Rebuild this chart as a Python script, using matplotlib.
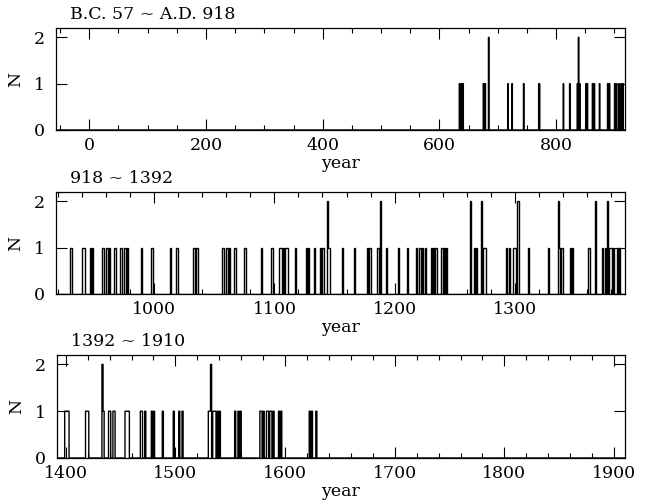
import numpy as np
import matplotlib
matplotlib.use("Agg")
import matplotlib.pyplot as plt
from matplotlib.ticker import MultipleLocator

plt.rcParams['font.family'] = ['DejaVu Serif']

# Event years (one entry per event; repeated year -> N=2)
events_p1 = [634, 637, 640, 675, 678, 684, 684, 717, 724, 744, 770, 771, 812, 823,
             836, 838, 838, 840, 851, 853, 862, 865, 874, 888, 891, 900, 903, 907,
             911, 914]
events_p2 = [930, 940, 941, 946, 948, 956, 957, 960, 962, 966, 967, 971, 972, 975,
             977, 989, 997, 998, 1013, 1018, 1019, 1032, 1033, 1035, 1056, 1057,
             1060, 1062, 1066, 1067, 1075, 1089, 1097, 1098, 1104, 1105, 1107, 1109,
             1110, 1117, 1126, 1128, 1133, 1138, 1140, 1144, 1144, 1145, 1156, 1166,
             1177, 1179, 1185, 1186, 1188, 1188, 1193, 1203, 1210, 1218, 1220, 1221,
             1223, 1225, 1230, 1232, 1234, 1239, 1241, 1243, 1263, 1263, 1266, 1268,
             1272, 1272, 1274, 1275, 1293, 1295, 1299, 1300, 1302, 1302, 1303, 1303,
             1311, 1328, 1336, 1336, 1337, 1339, 1346, 1348, 1361, 1362, 1367, 1367,
             1373, 1375, 1377, 1377, 1379, 1380, 1382, 1385, 1387]
events_p3 = [1399, 1400, 1401, 1402, 1418, 1419, 1420, 1433, 1433, 1434, 1439, 1440,
             1443, 1444, 1454, 1455, 1456, 1457, 1468, 1469, 1472, 1478, 1480, 1488,
             1498, 1503, 1506, 1530, 1531, 1532, 1532, 1534, 1535, 1536, 1538, 1540,
             1554, 1557, 1559, 1577, 1578, 1580, 1583, 1584, 1586, 1587, 1589, 1594,
             1596, 1622, 1624, 1628]

titles = ["B.C. 57 ~ A.D. 918", "918 ~ 1392", "1392 ~ 1910"]
xranges = [(-57, 918), (918, 1392), (1392, 1910)]
major_steps = [200, 100, 100]
minor_steps = [50, 20, 20]
yticks = [0, 1, 2]

W, H = 651, 504
fig = plt.figure(figsize=(W / 100, H / 100), dpi=100)

# axes boxes in pixel coords: (left, top, right, bottom)
boxes = [(56, 28, 625, 130), (56, 192, 625, 294), (57, 355, 625, 458)]
all_events = [events_p1, events_p2, events_p3]

for box, ev, (x0, x1), title, mj, mn in zip(boxes, all_events, xranges, titles,
                                            major_steps, minor_steps):
    l, t, r, b = box
    ax = fig.add_axes([l / W, 1 - b / H, (r - l) / W, (b - t) / H])
    bins = np.arange(x0, x1 + 1, 1)
    ax.hist(ev, bins=bins, histtype='step', color='black', linewidth=1.0)
    ax.set_xlim(x0, x1)
    ax.set_ylim(0, 2.2)
    ax.set_yticks(yticks)
    ax.xaxis.set_major_locator(MultipleLocator(mj))
    ax.xaxis.set_minor_locator(MultipleLocator(mn))
    ax.tick_params(which='both', direction='in', top=True, right=True,
                   labelsize=12.5, width=0.8, colors='black')
    ax.tick_params(which='major', length=8)
    ax.tick_params(which='minor', length=3.5)
    ax.tick_params(axis='x', pad=5)
    ax.tick_params(axis='y', pad=8)
    for s in ax.spines.values():
        s.set_linewidth(0.9)
    ax.set_xlabel("year", fontsize=12.5, labelpad=1)
    ax.set_ylabel("N", fontsize=12.5, labelpad=7)
    ax.text(0.025, 1.045, title, transform=ax.transAxes, fontsize=12.5,
            ha='left', va='bottom')

fig.savefig("out.png", dpi=100)
